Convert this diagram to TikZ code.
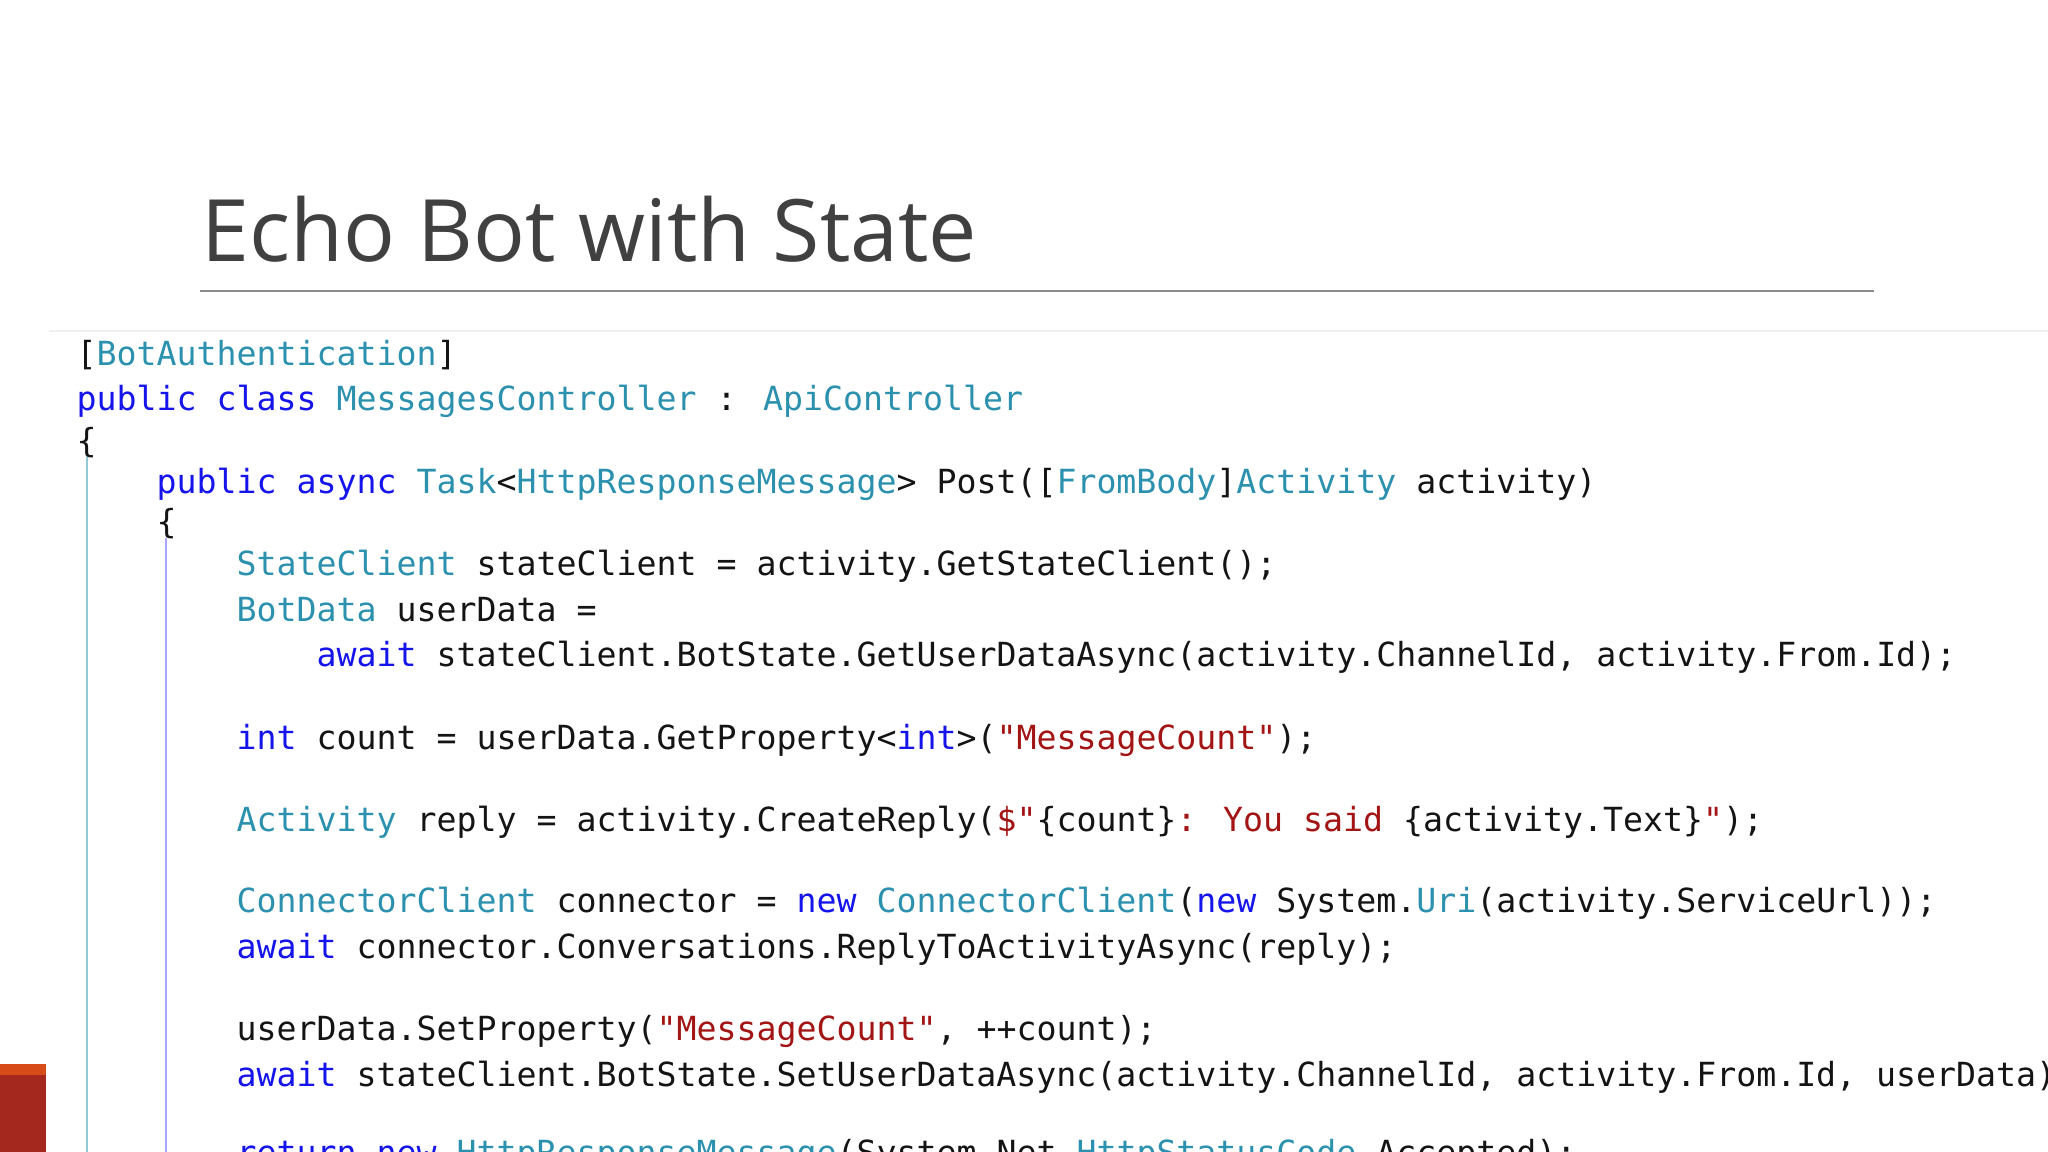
\documentclass[tikz,border=0pt]{standalone}
\usepackage{fontspec}
\setmainfont{Open Sans}
\newfontfamily\codefont{DejaVu Sans Mono}
\definecolor{kwc}{RGB}{20,20,235}
\definecolor{tyc}{RGB}{43,145,175}
\definecolor{stc}{RGB}{163,21,21}
\definecolor{txc}{RGB}{20,20,20}
\definecolor{boxc}{RGB}{165,40,30}
\definecolor{stripc}{RGB}{215,75,25}
\newcommand{\kw}[1]{\textcolor{kwc}{#1}}
\newcommand{\ty}[1]{\textcolor{tyc}{#1}}
\newcommand{\st}[1]{\textcolor{stc}{#1}}
\tikzset{code/.style={anchor=mid west,inner sep=0pt,font=\codefont\fontsize{9.45pt}{11pt}\selectfont,text=txc}}
\begin{document}
\begin{tikzpicture}[x=0.1mm,y=-0.1mm]
\useasboundingbox (0,0) rectangle (2048,1152);
\clip (0,0) rectangle (2048,1152);
\fill[white] (0,0) rectangle (2048,1152);
\node[anchor=mid west,inner sep=0pt,text=black!75,font=\fontsize{24.5pt}{27pt}\selectfont] (title) at (201,252) {Echo Bot with State};
\draw[black!45,line width=0.25mm] (200,291) -- (1874,291);
\draw[black!6,line width=0.2mm] (49,331) -- (2048,331);
\draw[tyc!50,line width=0.25mm] (87,457) -- (87,1152);
\draw[blue!35,line width=0.25mm] (166,538) -- (166,1152);
\fill[boxc] (0,1075) rectangle (46,1152);
\fill[stripc] (0,1064) rectangle (46,1075);
\node[code] (l1) at (76,356) {[\ty{BotAuthentication}]};
\node[code] (l2) at (76,401) {\kw{public} \kw{class} \ty{MessagesController} : \ty{ApiController}};
\node[code] (l3) at (76,443) {\{};
\node[code] (l4) at (156,484) {\kw{public} \kw{async} \ty{Task}<\ty{HttpResponseMessage}> Post([\ty{FromBody}]\ty{Activity} activity)};
\node[code] (l5) at (156,524) {\{};
\node[code] (l6) at (236,566) {\ty{StateClient} stateClient = activity.GetStateClient();};
\node[code] (l7) at (236,612) {\ty{BotData} userData =};
\node[code] (l8) at (316,657) {\kw{await} stateClient.BotState.GetUserDataAsync(activity.ChannelId, activity.From.Id);};
\node[code] (l9) at (236,740) {\kw{int} count = userData.GetProperty<\kw{int}>(\st{"MessageCount"});};
\node[code] (l10) at (236,822) {\ty{Activity} reply = activity.CreateReply(\st{\$"}\{count\}\st{: You said }\{activity.Text\}\st{"});};
\node[code] (l11) at (236,903) {\ty{ConnectorClient} connector = \kw{new} \ty{ConnectorClient}(\kw{new} System.\ty{Uri}(activity.ServiceUrl));};
\node[code] (l12) at (236,949) {\kw{await} connector.Conversations.ReplyToActivityAsync(reply);};
\node[code] (l13) at (236,1031) {userData.SetProperty(\st{"MessageCount"}, ++count);};
\node[code] (l14) at (236,1077) {\kw{await} stateClient.BotState.SetUserDataAsync(activity.ChannelId, activity.From.Id, userData);};
\node[code] (l15) at (236,1155) {\kw{return} \kw{new} \ty{HttpResponseMessage}(System.Net.\ty{HttpStatusCode}.Accepted);};
\end{tikzpicture}
\end{document}
